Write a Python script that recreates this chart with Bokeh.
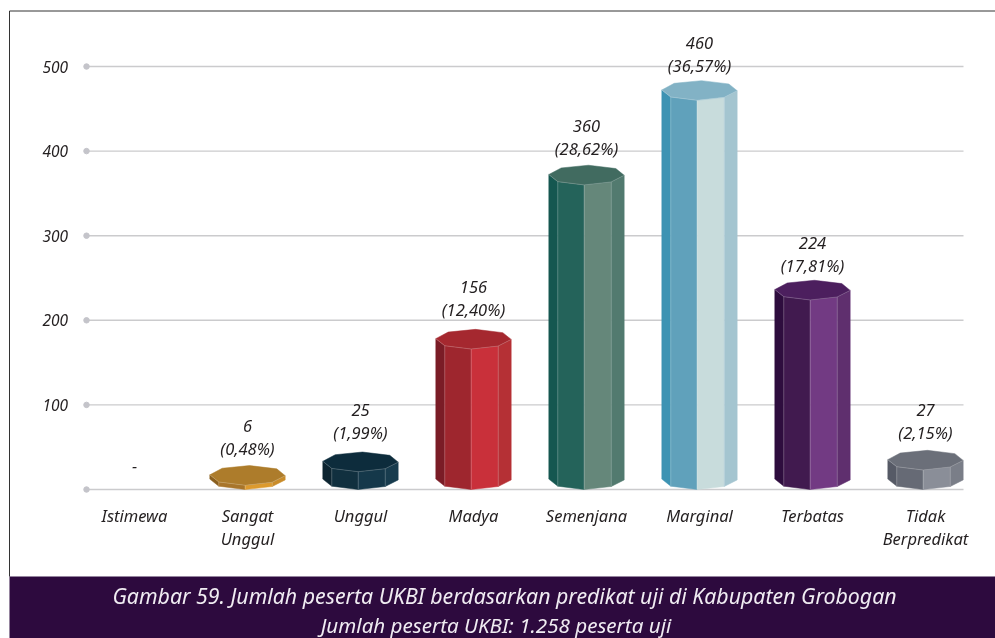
from bokeh.plotting import figure
from bokeh.embed import file_html
from bokeh.resources import INLINE
from bokeh.core.properties import value
from bokeh.models import FixedTicker, Range1d, LinearAxis

categories = ["Istimewa", "Sangat\nUnggul", "Unggul", "Madya", "Semenjana", "Marginal", "Terbatas", "Tidak\nBerpredikat"]
count_labels = ["-", "6", "25", "156", "360", "460", "224", "27"]
share_labels = ["", "(0,48%)", "(1,99%)", "(12,40%)", "(28,62%)", "(36,57%)", "(17,81%)", "(2,15%)"]
# height of each column as drawn in the picture
drawn_heights = [0, 5, 21, 166, 360, 460, 224, 23]
y_ticks = [0, 100, 200, 300, 400, 500]
# face colours: far left, left, right, far right, top
palette = [
    None,
    ("#8a5f1e", "#a8752a", "#dc9a2e", "#c98c2a", "#ad7c2b"),
    ("#0d2531", "#11303f", "#15384a", "#183c4e", "#0d2c3c"),
    ("#7a1c26", "#9e262e", "#c9303a", "#b53035", "#a5282f"),
    ("#155750", "#24635a", "#65877a", "#527a6f", "#416b60"),
    ("#3d93b3", "#60a1bb", "#c8dcdc", "#a4c5d0", "#82b2c5"),
    ("#2e0d3e", "#411a4f", "#723a83", "#5f2f6e", "#4c1f5e"),
    ("#565a66", "#666a75", "#8a8e98", "#7a7e88", "#6b6f79"),
]
caption_1 = "Gambar 59. Jumlah peserta UKBI berdasarkan predikat uji di Kabupaten Grobogan"
caption_2 = "Jumlah peserta UKBI: 1.258 peserta uji"

W, H = 995, 638
ZERO_PX, PX_PER_UNIT = 489, 0.846
X0_PX, SLOT_PX = 134.0, 113.0
FONT = "Noto Sans"
TEXT = "#231f20"
# gap (px) from the column top to the lower line of its label
LABEL_GAP = [24, 37, 39, 40, 36.5, 35, 34, 37.5]


def dy(px):
    return px / PX_PER_UNIT


def dx(px):
    return px / SLOT_PX


def px_x(px):
    return (px - X0_PX) / SLOT_PX


def px_y(px):
    return (ZERO_PX - px) / PX_PER_UNIT


p = figure(width=W, height=H, output_backend="svg", toolbar_location=None,
           x_range=Range1d(px_x(0), px_x(W)), y_range=Range1d(px_y(H), px_y(0)),
           x_axis_type=None, y_axis_type=None,
           min_border_left=0, min_border_right=0, min_border_top=0, min_border_bottom=0,
           outline_line_color=None, background_fill_color="white",
           border_fill_color="white",
           styles={"position": "fixed", "left": "0px", "top": "0px"})
p.grid.visible = False

# frame and caption band
p.line([px_x(9), px_x(9), px_x(W)], [px_y(576), px_y(10.5), px_y(10.5)],
       line_color="#333333", line_width=1)
p.quad(left=[px_x(9)], right=[px_x(W)], top=[px_y(576)], bottom=[px_y(H)],
       fill_color="#2d0a3e", line_color=None)

# grid lines with their dot at the left
gx0 = px_x(86)
gx1 = px_x(963)
p.segment(x0=[gx0] * len(y_ticks), x1=[gx1] * len(y_ticks), y0=y_ticks, y1=y_ticks,
          line_color="#cbcbcd", line_width=1.4)
p.scatter(x=[gx0] * len(y_ticks), y=y_ticks, size=5.5, color="#c4c4ca")

# axes, placed inside the full-canvas frame
ax_y = LinearAxis(ticker=FixedTicker(ticks=y_ticks), axis_line_color=None,
                  fixed_location=px_x(78.5),
                  major_tick_line_color=None, minor_tick_line_color=None,
                  major_label_overrides={0: ""}, major_label_standoff=5,
                  major_label_text_font=FONT, major_label_text_font_style="italic",
                  major_label_text_font_size="15.5px", major_label_text_color=TEXT)
p.add_layout(ax_y, "left")
ax_x = LinearAxis(ticker=FixedTicker(ticks=list(range(len(categories)))),
                  major_label_overrides={i: c for i, c in enumerate(categories)},
                  fixed_location=0,
                  axis_line_color=None, major_tick_line_color=None,
                  minor_tick_line_color=None, major_label_standoff=8,
                  major_label_text_font=FONT, major_label_text_font_style="italic",
                  major_label_text_font_size="16.5px", major_label_text_color=TEXT,
                  major_label_text_line_height=1.0)
p.add_layout(ax_x, "below")

# octagonal prism: x offset, height above the lowest rim point, in pixels
RIM_X = [-37.7, -28.7, -2.3, 24.7, 37.7]
RIM_Y = [10.4, 3.3, 0, 3, 9.6]
BACK = [(29.3, 16.4), (2, 19.7), (-25.3, 17)]

for i, h in enumerate(drawn_heights):
    cx = i
    if palette[i] is not None:
        cols = palette[i]
        xs, ys = [], []
        for k in range(4):
            x_a, x_b = cx + dx(RIM_X[k]), cx + dx(RIM_X[k + 1])
            xs.append([x_a, x_b, x_b, x_a])
            ys.append([h + dy(RIM_Y[k]), h + dy(RIM_Y[k + 1]),
                       dy(RIM_Y[k + 1]), dy(RIM_Y[k])])
        p.patches(xs, ys, fill_color=list(cols[:4]), line_color=list(cols[:4]), line_width=0.5)
        top_x = [cx + dx(v) for v in RIM_X] + [cx + dx(b[0]) for b in BACK]
        top_y = [h + dy(v) for v in RIM_Y] + [h + dy(b[1]) for b in BACK]
        p.patch(top_x, top_y, fill_color=cols[4], line_color=cols[4], line_width=0.5)
        # pale arrises between the faces
        ex, ey = [], []
        for k in (1, 2, 3):
            ex.append([cx + dx(RIM_X[k])] * 2)
            ey.append([h + dy(RIM_Y[k]), dy(RIM_Y[k])])
        ex.append([cx + dx(v) for v in RIM_X])
        ey.append([h + dy(v) for v in RIM_Y])
        p.multi_line(ex, ey, line_color="white", line_alpha=0.25, line_width=0.8)
    gap = LABEL_GAP[i]
    if share_labels[i]:
        p.text([cx], [h + dy(gap)], text=[share_labels[i]], text_align="center",
               text_baseline="middle", text_font=value(FONT), text_font_style="italic",
               text_font_size="16.5px", text_color=TEXT)
        gap += 22.5
    p.text([cx], [h + dy(gap)], text=[count_labels[i]], text_align="center",
           text_baseline="middle", text_font=value(FONT), text_font_style="italic",
           text_font_size="16.5px", text_color=TEXT)

# caption
for txt, cx_px, py, fs in ((caption_1, 504, 595, "21.3px"), (caption_2, 495.5, 624, "20.6px")):
    p.text([px_x(cx_px)], [px_y(py)], text=[txt], text_align="center",
           text_baseline="middle", text_font=value(FONT), text_font_style="italic",
           text_font_size=fs, text_color="#f0ecf2")

open("out.html", "w").write(file_html(p, INLINE))
